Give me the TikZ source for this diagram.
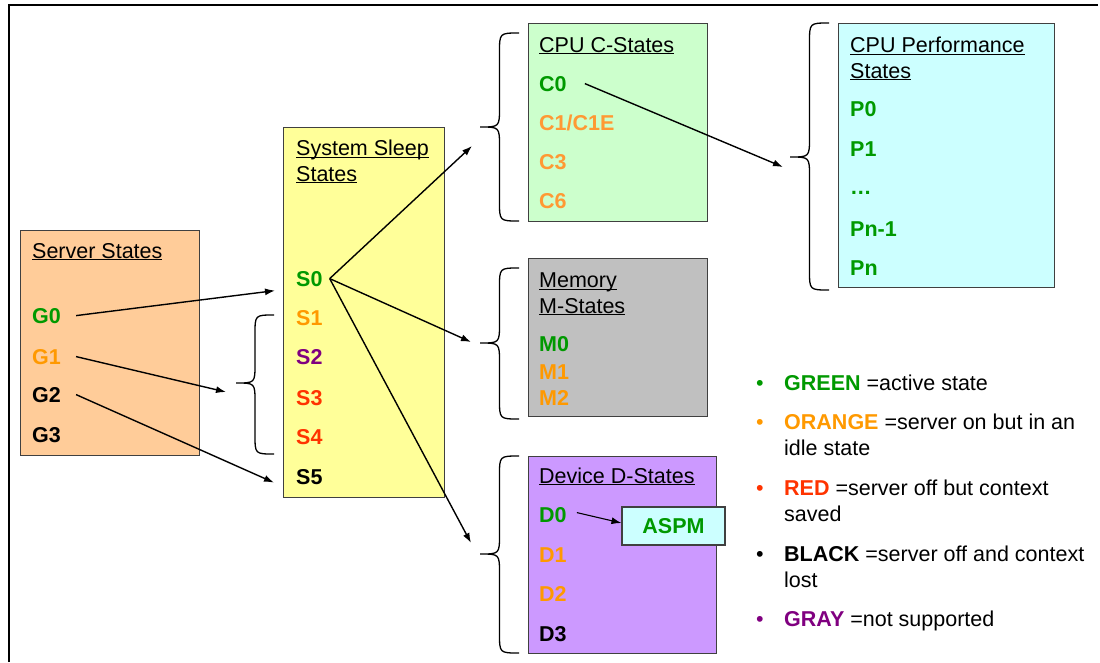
\documentclass[tikz,border=0pt]{standalone}
\usepackage{fontspec}
\setmainfont{Liberation Sans}
\usetikzlibrary{arrows.meta}

\definecolor{actgreen}{HTML}{009900}
\definecolor{idleorg}{HTML}{FF9900}
\definecolor{cidle}{HTML}{FF9933}
\definecolor{offred}{HTML}{FF3300}
\definecolor{nosup}{HTML}{800080}
\definecolor{srvfill}{HTML}{FFCC99}
\definecolor{slpfill}{HTML}{FFFF99}
\definecolor{cpufill}{HTML}{CCFFCC}
\definecolor{perffill}{HTML}{CCFFFF}
\definecolor{memfill}{HTML}{C0C0C0}
\definecolor{devfill}{HTML}{CC99FF}
\definecolor{boxline}{HTML}{404040}

\newcommand{\fsz}{\fontsize{21.5}{25.5}\selectfont}
\newcommand{\ttl}[1]{\underline{\smash{#1}}}
% name, x of ends, x of tip, y top, y tip, y bottom
\newcommand{\grpbrace}[6]{%
  \pgfmathsetmacro{\brcx}{(#2+#3)/2}\pgfmathsetmacro{\brcr}{#2-\brcx}
  \draw[brc] (#2,#4) .. controls (\brcx,#4) .. (\brcx,#4+\brcr) -- (\brcx,#5-\brcr)
    .. controls (\brcx,#5) .. (#3,#5) .. controls (\brcx,#5) .. (\brcx,#5+\brcr)
    -- (\brcx,#6-\brcr) .. controls (\brcx,#6) .. (#2,#6);
  \coordinate (#1) at (#3,#5);}

\begin{document}
\begin{tikzpicture}[x=1pt, y=-1pt,
    every node/.style={font=\fsz, inner sep=0pt},
    box/.style={draw=boxline, line width=1.1pt, anchor=north west},
    hdr/.style={anchor=base west, align=left},
    pstate/.style={anchor=base west, font=\fsz\bfseries},
    bul/.style={anchor=base, font=\fsz},
    arr/.style={-{Latex[length=10pt,width=7pt]}, line width=1.4pt},
    brc/.style={line width=1.3pt}]
  \useasboundingbox (0,0) rectangle (1100,662);
  \draw[line width=1.2pt] (9,662) -- (9,5) -- (1098,5);

  \node[box, fill=srvfill, minimum width=179pt, minimum height=225pt] (srv) at (20,230) {};
  \node[box, fill=slpfill, minimum width=161pt, minimum height=370pt] (slp) at (283,127) {};
  \node[box, fill=cpufill, minimum width=179pt, minimum height=198pt] (cpu) at (528,23) {};
  \node[box, fill=perffill, minimum width=216pt, minimum height=264pt] (perf) at (838,23) {};
  \node[box, fill=memfill, minimum width=179pt, minimum height=158pt] (mem) at (528,258) {};
  \node[box, fill=devfill, minimum width=188pt, minimum height=197pt] (dev) at (528,456) {};

  \node[hdr] (srvttl) at (32,258) {\ttl{Server States}};
  \node[pstate, text=actgreen] (G0) at (32,323) {G0};
  \node[pstate, text=idleorg] (G1) at (32,364) {G1};
  \node[pstate] (G2) at (32,402) {G2};
  \node[pstate] (G3) at (32,442) {G3};

  \node[hdr] (slpttl) at (296,181) {\ttl{System Sleep}\\\ttl{States}};
  \node[pstate, text=actgreen] (S0) at (296,286) {S0};
  \node[pstate, text=idleorg] (S1) at (296,325) {S1};
  \node[pstate, text=nosup] (S2) at (296,364) {S2};
  \node[pstate, text=offred] (S3) at (296,405) {S3};
  \node[pstate, text=offred] (S4) at (296,444) {S4};
  \node[pstate] (S5) at (296,484) {S5};

  \node[hdr] (cputtl) at (539,52) {\ttl{CPU C-States}};
  \node[pstate, text=actgreen] (C0) at (539,91) {C0};
  \node[pstate, text=cidle] (C1) at (539,130) {C1/C1E};
  \node[pstate, text=cidle] (C3) at (539,169) {C3};
  \node[pstate, text=cidle] (C6) at (539,208) {C6};

  \node[hdr] (perfttl) at (850,78) {\ttl{CPU Performance}\\\ttl{States}};
  \node[pstate, text=actgreen] (P0) at (850,116) {P0};
  \node[pstate, text=actgreen] (P1) at (850,156) {P1};
  \node[pstate, text=actgreen] (Pdots) at (850,194) {\dots};
  \node[pstate, text=actgreen] (Pn1) at (850,236) {Pn-1};
  \node[pstate, text=actgreen] (Pn) at (850,275) {Pn};

  \node[hdr] (memttl) at (539,313) {\ttl{Memory}\\\ttl{M-States}};
  \node[pstate, text=actgreen] (M0) at (539,351) {M0};
  \node[pstate, text=idleorg] (M1) at (539,379) {M1};
  \node[pstate, text=idleorg] (M2) at (539,405) {M2};

  \node[hdr] (devttl) at (539,483) {\ttl{Device D-States}};
  \node[pstate, text=actgreen] (D0) at (539,522) {D0};
  \node[pstate, text=idleorg] (D1) at (539,562) {D1};
  \node[pstate, text=idleorg] (D2) at (539,601) {D2};
  \node[pstate] (D3) at (539,641) {D3};
  \node[draw=boxline, line width=1.1pt, fill=perffill, minimum width=103pt, minimum height=38pt,
    font=\fsz\bfseries, text=actgreen] (aspm) at (673.5,526) {ASPM};

  \grpbrace{sgrp}{274}{236}{315}{383}{454}
  \grpbrace{cgrp}{519}{480}{33}{127}{221}
  \grpbrace{mgrp}{519}{480}{268}{343}{419}
  \grpbrace{dgrp}{519}{480}{456}{554}{653}
  \grpbrace{pgrp}{829}{790}{23}{157}{290}

  \draw[arr] ([xshift=15pt]G0.east) -- ([xshift=-21pt,yshift=-12pt]S0.west);
  \draw[arr] ([xshift=15pt]G1.east) -- ([xshift=-10pt,yshift=-9pt]sgrp);
  \draw[arr] ([xshift=15pt]G2.east) -- ([xshift=-22pt,yshift=-6pt]S5.west);
  \draw[arr] ([xshift=7pt]S0.east) -- ([xshift=-8pt,yshift=-19pt]cgrp);
  \draw[arr] ([xshift=7pt]S0.east) -- ([xshift=-9pt,yshift=1pt]mgrp);
  \draw[arr] ([xshift=7pt]S0.east) -- ([xshift=-9pt,yshift=11pt]dgrp);
  \draw[arr] ([xshift=18pt]C0.east) -- ([xshift=-7pt,yshift=-10pt]pgrp);
  \draw[arr, line width=1.1pt] ([xshift=10pt,yshift=2pt]D0.east) -- ([yshift=3pt]aspm.west);

  \node[bul, text=actgreen] (bgrn) at (760,390) {•};
  \node[hdr] (lgrn) at (784,390) {\textbf{\color{actgreen}GREEN} =active state};
  \node[bul, text=idleorg] (borg) at (760,429) {•};
  \node[hdr] (lorg) at (784,455) {\textbf{\color{idleorg}ORANGE} =server on but in an\\idle state};
  \node[bul, text=offred] (bred) at (760,495) {•};
  \node[hdr] (lred) at (784,521) {\textbf{\color{offred}RED} =server off but context\\saved};
  \node[bul] (bblk) at (760,561) {•};
  \node[hdr] (lblk) at (784,587) {\textbf{BLACK} =server off and context\\lost};
  \node[bul, text=nosup] (bgry) at (760,626) {•};
  \node[hdr] (lgry) at (784,626) {\textbf{\color{nosup}GRAY} =not supported};
\end{tikzpicture}
\end{document}
